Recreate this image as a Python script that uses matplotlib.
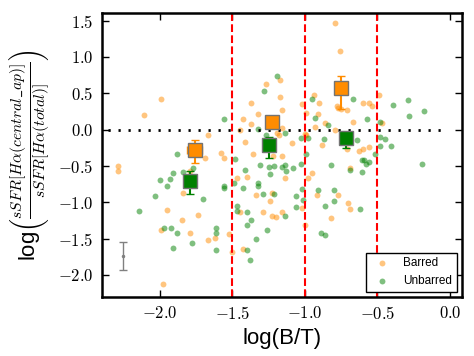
import numpy as np
import matplotlib
matplotlib.use("Agg")
import matplotlib.pyplot as plt
from matplotlib.ticker import FuncFormatter, MultipleLocator

plt.rcParams['mathtext.fontset'] = 'cm'
plt.rcParams['font.family'] = ['Liberation Sans', 'DejaVu Sans']

# puntos individuales (log B/T, log cociente sSFR)
barred_x = [-1.99, -2.11, -1.37, -1.27, -1.17, -1.43, -1.32, -1.37, -1.45, -1.67,
            -1.41, -1.58, -1.36, -1.19, -1.17, -0.79, -0.76, -1.16, -0.94, -0.90,
            -1.02, -0.99, -0.91, -0.93, -0.86, -0.78, -0.77, -0.75, -0.71, -0.67,
            -0.79, -0.60, -0.56, -0.54, -0.49, -0.47, -1.16, -1.18, -1.09, -0.99,
            -0.88, -0.71, -0.63, -0.60, -0.56, -0.69, -0.95, -0.98, -1.16, -1.22,
            -1.14, -1.23, -1.24, -1.02, -1.23, -1.20, -1.16, -1.00, -0.92, -0.77,
            -0.82, -0.70, -0.69, -1.69, -1.56, -2.29, -2.29, -1.79, -1.84, -1.47,
            -1.40, -1.34, -1.29, -1.45, -1.95, -1.99, -1.85, -1.74, -1.79, -1.67,
            -1.62, -1.52, -1.50, -1.43, -1.98, -1.00]
barred_y = [0.42, 0.20, 0.36, 0.63, 0.68, 0.15, 0.21, 0.08, -0.01, -0.08,
            -0.17, -0.32, -0.34, -0.05, 0.45, 1.47, 1.08, 0.27, 0.48, 0.37,
            0.35, 0.23, 0.22, 0.04, 0.09, 0.32, 0.29, 0.28, 0.27, 0.11,
            -0.01, 0.36, 0.36, 0.32, 0.47, 0.09, 0.02, -0.07, -0.19, -0.08,
            -0.21, -0.27, -0.29, -0.27, -0.24, -0.53, -0.60, -0.66, -0.37, -0.37,
            -0.67, -0.87, -0.98, -1.08, -1.19, -1.21, -1.13, -1.31, -0.90, -0.90,
            -1.22, -1.01, -1.10, -0.39, -0.39, -0.50, -0.57, -0.57, -0.87, -0.66,
            -0.65, -0.90, -1.13, -1.13, -1.11, -1.38, -1.25, -1.18, -1.43, -1.52,
            -1.49, -1.44, -1.69, -1.64, -2.13, -0.06]

unbarred_x = [-1.19, -1.28, -1.56, -1.32, -1.27, -1.88, -0.95, -0.67, -0.93, -0.84,
              -0.57, -0.39, -0.29, -0.28, -0.18, -0.48, -1.14, -1.03, -0.98, -0.87,
              -0.64, -0.48, -0.45, -0.48, -0.41, -0.82, -0.69, -0.61, -0.61, -0.59,
              -0.56, -0.58, -0.52, -0.19, -1.13, -1.14, -1.08, -1.03, -0.99, -1.21,
              -1.16, -1.21, -1.06, -1.02, -1.01, -1.06, -1.14, -0.91, -0.86, -0.80,
              -0.80, -0.62, -0.89, -0.86, -1.48, -1.41, -1.31, -1.25, -1.24, -1.91,
              -1.93, -1.95, -2.00, -2.03, -2.14, -1.84, -1.77, -1.70, -1.56, -1.56,
              -1.49, -1.43, -1.32, -1.32, -1.29, -1.47, -1.47, -1.40, -1.37, -1.40,
              -1.26, -1.34, -1.40, -1.38, -1.97, -1.92, -1.88, -1.91, -1.78, -1.61,
              -1.61, -1.61]
unbarred_y = [0.74, 0.53, 0.15, 0.01, -0.08, -0.33, 0.42, 0.42, 0.16, 0.06,
              0.15, 0.34, 0.41, 0.19, 0.26, 0.10, -0.05, -0.12, -0.11, -0.13,
              -0.14, -0.10, -0.13, -0.22, -0.22, -0.49, -0.56, -0.58, -0.42, -0.42,
              -0.45, -0.48, -0.33, -0.47, -0.57, -0.49, -0.53, -0.48, -0.33, -0.50,
              -0.51, -0.88, -0.92, -0.82, -0.97, -1.06, -1.19, -0.83, -1.05, -0.83,
              -0.98, -1.10, -1.43, -1.45, -0.40, -0.56, -0.49, -0.52, -0.61, -0.60,
              -0.68, -0.77, -0.70, -0.91, -1.12, -0.58, -0.53, -0.96, -0.78, -0.81,
              -0.73, -0.81, -0.73, -0.78, -0.89, -1.05, -1.12, -1.14, -1.24, -1.31,
              -1.38, -1.50, -1.66, -1.80, -1.36, -1.36, -1.43, -1.63, -1.56, -1.36,
              -1.42, -1.66]

# medianas por bin
bar_med_x = [-1.76, -1.23, -0.75]
bar_med_y = [-0.28, 0.11, 0.57]
bar_err_lo = [0.18, 0.06, 0.29]
bar_err_hi = [0.14, 0.06, 0.17]
bar_xerr = [0.05, 0.0, 0.0]

unbar_med_x = [-1.79, -1.25, -0.72]
unbar_med_y = [-0.71, -0.21, -0.11]
unbar_err_lo = [0.18, 0.18, 0.15]
unbar_err_hi = [0.14, 0.11, 0.08]

# error tipico
typ_x = [-2.25]
typ_y = [-1.74]
typ_err = [0.19]

bin_edges = [-1.5, -1.0, -0.5]

fig = plt.figure(figsize=(4.74, 3.56), dpi=100)
ax = fig.add_axes([0.2146, 0.1666, 0.7594, 0.796])

ax.scatter(barred_x, barred_y, s=18, color='darkorange', alpha=0.5, linewidths=0, label='Barred')
ax.scatter(unbarred_x, unbarred_y, s=18, color='green', alpha=0.5, linewidths=0, label='Unbarred')

for b in bin_edges:
    ax.axvline(b, color='red', ls='--', lw=1.5)
ax.plot([-2.36, -0.05], [0, 0], color='k', lw=2, ls=(0, (0.8, 2.8)))

ax.errorbar(bar_med_x, bar_med_y, yerr=[bar_err_lo, bar_err_hi], xerr=bar_xerr, fmt='s',
            color='darkorange', ecolor='darkorange', mec='0.45', mew=1, ms=10,
            elinewidth=1.5, capsize=3, zorder=5)
ax.errorbar(unbar_med_x, unbar_med_y, yerr=[unbar_err_lo, unbar_err_hi], fmt='s',
            color='green', ecolor='green', mec='0.45', mew=1, ms=10,
            elinewidth=1.5, capsize=3, zorder=5)
ax.errorbar(typ_x, typ_y, yerr=typ_err, fmt='.', color='0.5', ms=3, elinewidth=1, capsize=3)

ax.set_xlim(-2.4, 0.08)
ax.set_ylim(-2.3, 1.6)
ax.xaxis.set_major_locator(MultipleLocator(0.5))
ax.yaxis.set_major_locator(MultipleLocator(0.5))
fmt = FuncFormatter(lambda v, p: r'$%.1f$' % v)
ax.xaxis.set_major_formatter(fmt)
ax.yaxis.set_major_formatter(fmt)
ax.tick_params(direction='in', top=True, right=True, length=5, width=1, labelsize=12, pad=6)
for sp in ax.spines.values():
    sp.set_linewidth(1.8)

ax.set_xlabel('log(B/T)', fontsize=16)
ax.set_ylabel(r'log$\left(\frac{sSFR[H\alpha(central\_ap)]}{sSFR[H\alpha(total)]}\right)$',
              fontsize=16, labelpad=4)

leg = ax.legend(loc='lower right', scatterpoints=1, fontsize=8.5, fancybox=False, framealpha=1,
                borderaxespad=0.4)
leg.get_frame().set_edgecolor('k')

plt.savefig('out.png', dpi=100)
